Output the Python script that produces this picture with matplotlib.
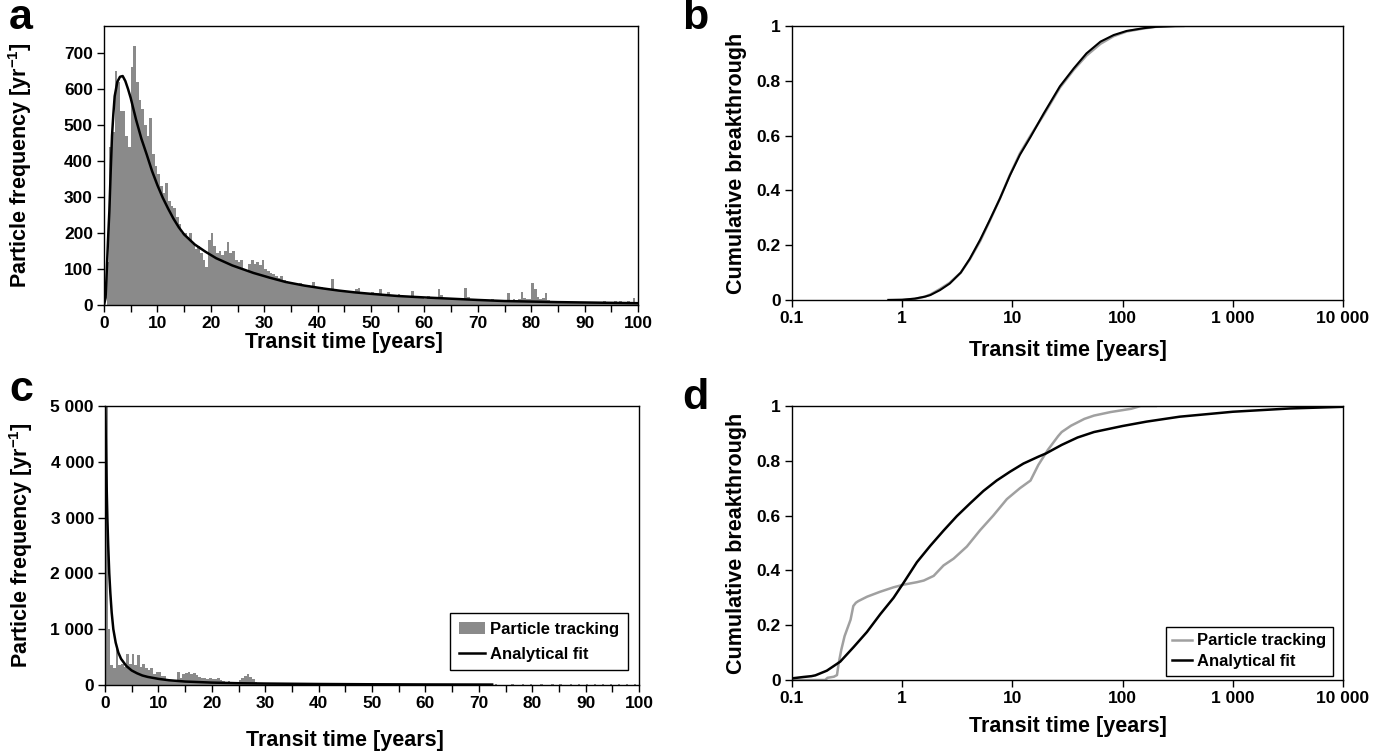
import matplotlib
matplotlib.use('Agg')
import matplotlib.pyplot as plt
from matplotlib.ticker import MultipleLocator, NullLocator, FixedLocator
import numpy as np

plt.rcParams['font.family'] = ['Liberation Sans', 'DejaVu Sans']
plt.rcParams['font.weight'] = 'bold'
plt.rcParams['mathtext.fontset'] = 'custom'
plt.rcParams['mathtext.rm'] = 'Liberation Sans:bold'
plt.rcParams['mathtext.bf'] = 'Liberation Sans:bold'

# particle frequency per 0.5-year bin, 0 to 100 years (panel a)
hist_a = [
    0, 120, 440, 480, 650, 620, 540, 540, 470, 440,
    660, 720, 620, 570, 545, 500, 470, 520, 420, 385,
    365, 330, 310, 340, 290, 275, 270, 245, 225, 200,
    200, 190, 200, 170, 155, 165, 145, 125, 105, 180,
    200, 165, 145, 150, 140,
    150, 175, 145, 150, 125, 120, 125, 100, 95, 115,
    125, 115, 120, 110, 125, 100, 95, 90, 85, 80,
    75, 80, 70, 68, 65, 62, 60, 58, 62, 55,
    52, 55, 50, 65, 50, 48, 50, 45, 48, 42,
    72, 45, 40, 42, 38, 40, 35, 38, 36, 45,
    48, 35, 33, 30, 32, 35, 30, 32, 45, 30,
    28, 35, 25, 28, 26,
    30, 22, 25, 22, 24, 40, 22, 23, 20, 22,
    18, 25, 20, 18, 20, 45, 28, 18, 16, 18,
    20, 16, 18, 15, 16, 48, 22, 18, 15, 14,
    16, 14, 15, 12, 14, 18, 12, 14, 12, 14,
    14, 32, 12, 16, 15, 18, 36, 20, 16, 18,
    60, 45, 22, 18, 20, 32, 14, 12, 10, 8,
    8, 10, 7, 9, 8, 6, 8, 9, 7, 8,
    7, 8, 6, 8, 7, 9, 8, 12, 7, 8,
    9, 10, 8, 10, 9, 8, 10, 9, 20, 8,
]

# particle frequency per 0.5-year bin, 0 to 100 years (panel c)
hist_c = [
    5000, 1000, 350, 300, 650, 350, 380, 330, 560, 380,
    560, 350, 540, 330, 380, 300, 260, 300, 200, 230,
    230, 170, 160, 110, 90, 80, 90, 230, 120, 200,
    220, 240, 200, 220, 180, 150, 130, 120, 100, 130,
    110, 100, 120, 90, 80, 60, 70, 60, 50, 60,
    90, 120, 170, 190, 150, 110, 60, 40, 35, 30,
    25, 20, 20, 25, 20, 15, 20, 18, 15, 15,
    15, 12, 15, 12, 10, 12, 10, 10, 12, 10,
    10, 8, 12, 10, 8, 20, 10, 8, 10, 8,
    8, 10, 20, 8, 6, 8, 10, 6, 8, 6,
    6, 8, 6, 15, 6, 5, 6, 8, 5, 6,
    5, 6, 5, 12, 5, 6, 5, 4, 6, 5,
    5, 4, 10, 5, 4, 5, 4, 5, 8, 4,
    4, 5, 4, 4, 8, 4, 5, 4, 4, 5,
    4, 4, 8, 4, 4, 5, 20, 4, 4, 3,
    3, 4, 15, 3, 4, 3, 12, 4, 3, 15,
    3, 4, 3, 15, 3, 4, 3, 12, 3, 4,
    15, 3, 4, 3, 12, 3, 3, 15, 3, 3,
    12, 3, 3, 15, 3, 3, 12, 3, 3, 15,
    3, 3, 12, 3, 3, 15, 3, 3, 12, 3,
]
bin_width = 0.5

# analytical fit, panel a
fit_a_t = [0, 0.3, 0.5, 0.75, 1.0, 1.25, 1.5, 1.75, 2.0, 2.5, 3.0, 3.5, 4.0, 4.5,
           5.0, 6.0, 7.0, 8.0, 9.0, 10.0, 11.0, 12.0, 13.0, 14.0, 15.0, 17.0,
           19.0, 21.0, 24.0, 28.0, 31.0, 34.0, 37.5, 41.0, 44.0, 47.0, 50.0,
           55.0, 60.0, 65.0, 70.0, 75.0, 80.0, 85.0, 90.0, 95.0, 100.0]
fit_a_f = [0, 20, 88, 180, 260, 370, 470, 530, 580, 620, 634, 636, 622, 600,
           575, 515, 462, 418, 372, 333, 298, 268, 240, 216, 196, 168,
           148, 130, 110, 89, 76, 64, 54, 46, 40, 35, 31,
           25, 21, 17.5, 14, 11, 9.5, 8, 7, 6, 5]

# analytical fit, panel c
fit_c_t = [0.0, 0.1, 0.2, 0.3, 0.44, 0.6, 0.8, 1.0, 1.25, 1.56, 2.0, 2.5, 3.0,
           4.0, 5.0, 6.0, 7.0, 8.0, 10.0, 12.0, 15.0, 20.0, 25.0, 30.0, 40.0,
           50.0, 60.0, 72.5]
fit_c_f = [5200, 4700, 4100, 3600, 3000, 2500, 2000, 1650, 1300, 1000, 760, 580,
           470, 340, 260, 210, 170, 145, 110, 85, 62, 43, 32, 26, 18,
           13, 10, 8]

# cumulative breakthrough, panel b
cum_b_fit_t = [0.75, 1.0, 1.3, 1.6, 1.8, 2.2, 2.7, 3.4, 4.1, 5.1, 6.2, 7.7, 9.5,
               11.7, 14.6, 19.2, 27, 36, 47, 63, 83, 109, 155, 200, 300, 10000]
cum_b_fit = [0, 0.001, 0.005, 0.012, 0.018, 0.036, 0.06, 0.10, 0.15, 0.22, 0.29,
             0.37, 0.455, 0.53, 0.595, 0.68, 0.78, 0.845, 0.90, 0.943, 0.967,
             0.982, 0.992, 0.997, 1.0, 1.0]
cum_b_pt_t = [0.75, 1.0, 1.3, 1.6, 1.8, 2.2, 2.7, 3.4, 4.1, 5.1, 6.2, 7.7, 9.5,
              11.7, 14.6, 19.2, 27, 36, 47, 63, 83, 109, 155, 200, 355]
cum_b_pt = [0, 0, 0.004, 0.012, 0.02, 0.04, 0.063, 0.10, 0.148, 0.215, 0.287,
            0.37, 0.457, 0.535, 0.60, 0.675, 0.775, 0.84, 0.892, 0.935, 0.963,
            0.98, 0.991, 0.997, 1.0]

# cumulative breakthrough, panel d
cum_d_fit_t = [0.1, 0.127, 0.15, 0.163, 0.207, 0.274, 0.362, 0.478, 0.632, 0.835,
               1.03, 1.36, 1.8, 2.37, 3.13, 4.14, 5.46, 7.2, 9.5, 12.6, 17.2,
               20.2, 28, 39, 55, 100, 165, 330, 1000, 3300, 10000]
cum_d_fit = [0.006, 0.011, 0.014, 0.017, 0.034, 0.067, 0.12, 0.175, 0.24, 0.30,
             0.355, 0.43, 0.49, 0.545, 0.598, 0.645, 0.69, 0.728, 0.76, 0.79,
             0.815, 0.827, 0.858, 0.885, 0.905, 0.927, 0.943, 0.961, 0.979,
             0.991, 0.997]
cum_d_pt_t = [0.1, 0.2, 0.21, 0.24, 0.256, 0.265, 0.28, 0.3, 0.34, 0.36, 0.38,
              0.4, 0.48, 0.63, 0.83, 1.03, 1.36, 1.57, 1.93, 2.37, 2.93, 3.86,
              5.1, 6.7, 8.9, 11.7, 14.6, 17.2, 21, 26, 28, 34, 45, 55, 78,
              120, 146, 200]
cum_d_pt = [0, 0, 0.008, 0.012, 0.018, 0.06, 0.11, 0.16, 0.22, 0.27, 0.282,
            0.288, 0.304, 0.322, 0.338, 0.348, 0.357, 0.363, 0.38, 0.418, 0.443,
            0.487, 0.547, 0.60, 0.66, 0.70, 0.728, 0.785, 0.84, 0.89, 0.905,
            0.928, 0.953, 0.965, 0.978, 0.99, 1.0, 1.0]

log_ticks = [0.1, 1, 10, 100, 1000, 10000]
log_labels = ['0.1', '1', '10', '100', '1 000', '10 000']

W, H = 1385, 751
fig = plt.figure(figsize=(W / 100, H / 100), dpi=100)


def px_box(left, top, right, bottom):
    return [left / W, 1 - bottom / H, (right - left) / W, (bottom - top) / H]


ax_a = fig.add_axes(px_box(104, 26, 638, 305))
ax_b = fig.add_axes(px_box(792, 26, 1343, 300))
ax_c = fig.add_axes(px_box(105, 406, 639, 685))
ax_d = fig.add_axes(px_box(792, 406, 1343, 680))

bar_grey = '#8a8a8a'
line_grey = '#a0a0a0'
tick_size = 12.5
label_size = 15.5

for ax in (ax_a, ax_b, ax_c, ax_d):
    for s in ax.spines.values():
        s.set_linewidth(1.0)
        s.set_color('black')
    ax.tick_params(which='both', direction='out', length=5, width=1,
                   labelsize=tick_size, pad=3, color='black')

# histograms (drawn as one filled step outline)
edges = np.arange(len(hist_a) + 1) * bin_width
ax_a.stairs(hist_a, edges, fill=True, color=bar_grey, linewidth=0)
ax_a.plot(fit_a_t, fit_a_f, color='black', lw=1.8)
ax_a.set_xlim(0, 100)
ax_a.set_ylim(0, 775)
ax_a.yaxis.set_major_locator(MultipleLocator(100))

bars_c = ax_c.stairs(hist_c, edges, fill=True, color=bar_grey, linewidth=0)
fit_c_line, = ax_c.plot(fit_c_t, fit_c_f, color='black', lw=1.8)
ax_c.set_xlim(0, 100)
ax_c.set_ylim(0, 5000)
ax_c.set_yticks([0, 1000, 2000, 3000, 4000, 5000])
ax_c.set_yticklabels(['0', '1 000', '2 000', '3 000', '4 000', '5 000'])

for ax in (ax_a, ax_c):
    ax.xaxis.set_major_locator(MultipleLocator(10))
    ax.xaxis.set_minor_locator(MultipleLocator(5))
    ax.set_ylabel(r'Particle frequency [yr$^{-1}$]', fontsize=label_size,
                  fontweight='bold', va='center')
    ax.yaxis.set_label_coords(-0.158, 0.5)

# cumulative curves
ax_b.plot(cum_b_pt_t, cum_b_pt, color=line_grey, lw=1.8)
ax_b.plot(cum_b_fit_t, cum_b_fit, color='black', lw=1.5)
ax_d.plot(cum_d_pt_t, cum_d_pt, color=line_grey, lw=1.8, label='Particle tracking')
ax_d.plot(cum_d_fit_t, cum_d_fit, color='black', lw=1.8, label='Analytical fit')

for ax in (ax_b, ax_d):
    ax.set_xscale('log')
    ax.set_xlim(0.1, 10000)
    ax.set_ylim(0, 1)
    ax.xaxis.set_major_locator(FixedLocator(log_ticks))
    ax.xaxis.set_minor_locator(NullLocator())
    ax.set_xticklabels(log_labels)
    ax.set_yticks([0, 0.2, 0.4, 0.6, 0.8, 1.0])
    ax.set_yticklabels(['0', '0.2', '0.4', '0.6', '0.8', '1'])
    ax.set_ylabel('Cumulative breakthrough', fontsize=label_size,
                  fontweight='bold', va='center')
    ax.yaxis.set_label_coords(-0.1, 0.5)

for ax in (ax_a, ax_b, ax_c, ax_d):
    for lab in ax.get_xticklabels() + ax.get_yticklabels():
        lab.set_fontweight('bold')
        lab.set_fontsize(tick_size)

# x labels
ax_a.set_xlabel('Transit time [years]', fontsize=label_size, fontweight='bold', va='center')
ax_a.xaxis.set_label_coords(0.449, -0.135)
ax_c.set_xlabel('Transit time [years]', fontsize=label_size, fontweight='bold', va='center')
ax_c.xaxis.set_label_coords(0.449, -0.2)
ax_b.set_xlabel('Transit time [years]', fontsize=label_size, fontweight='bold', va='center')
ax_b.xaxis.set_label_coords(0.5, -0.185)
ax_d.set_xlabel('Transit time [years]', fontsize=label_size, fontweight='bold', va='center')
ax_d.xaxis.set_label_coords(0.5, -0.168)

leg_c = ax_c.legend([bars_c, fit_c_line], ['Particle tracking', 'Analytical fit'],
                    loc='lower right', bbox_to_anchor=(0.979, 0.054),
                    borderaxespad=0, fancybox=False, edgecolor='black',
                    framealpha=1, prop={'size': 12, 'weight': 'bold'},
                    handlelength=1.6, handletextpad=0.3, borderpad=0.5,
                    labelspacing=0.6)
leg_c.get_frame().set_linewidth(1.0)
leg_d = ax_d.legend(loc='lower right', bbox_to_anchor=(0.982, 0.015),
                    borderaxespad=0, fancybox=False, edgecolor='black',
                    framealpha=1, prop={'size': 12, 'weight': 'bold'},
                    handlelength=1.2, handletextpad=0.3, borderpad=0.4,
                    labelspacing=0.35)
leg_d.get_frame().set_linewidth(1.0)

# panel letters
for letter, (x, y) in zip('abcd', [(9, -2), (682, -2), (9, 370), (682, 378)]):
    fig.text(x / W, 1 - y / H, letter, fontsize=31, fontweight='bold',
             ha='left', va='top')

fig.savefig('out.png', dpi=100)
